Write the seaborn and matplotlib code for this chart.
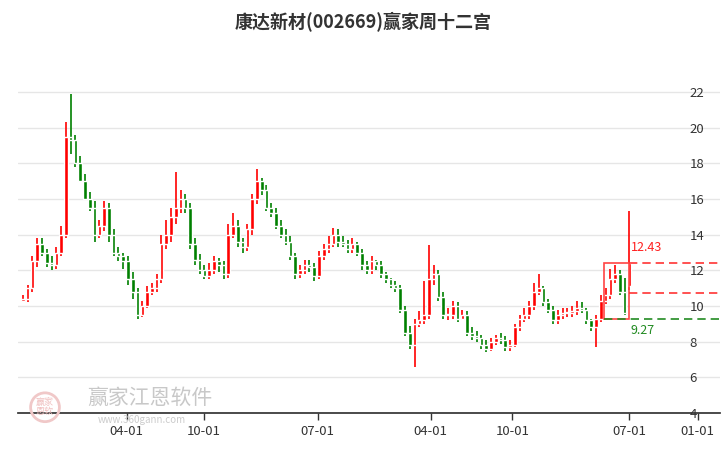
import numpy as np
import seaborn as sns
import matplotlib
matplotlib.use("Agg")
import matplotlib.pyplot as plt
from matplotlib.patches import Rectangle, Ellipse

# weekly candles
o = [10.3,10.4,11.0,12.5,13.5,13.0,12.4,12.3,13.0,14.0,
     19.5,19.3,18.0,17.0,16.0,15.5,14.0,14.5,15.5,14.0,
     13.0,12.8,12.5,11.5,10.8,9.5,10.0,10.8,11.0,11.5,
     13.5,14.0,15.0,15.5,16.0,15.5,13.5,12.6,12.0,11.7,
     12.0,12.5,12.3,11.8,14.0,14.5,13.6,13.3,14.3,16.0,
     17.0,16.5,15.5,15.2,14.5,14.0,13.6,12.8,11.8,12.0,
     12.3,12.2,11.7,12.8,13.2,13.5,14.0,13.6,13.5,13.2,
     13.5,13.0,12.3,12.0,12.5,12.3,11.8,11.5,11.2,11.0,
     9.8,8.5,7.8,9.0,9.2,9.5,11.5,11.8,10.5,9.5,
     9.5,10.0,9.3,9.5,8.5,8.3,8.2,7.8,7.6,8.0,
     8.2,8.1,7.7,7.8,8.8,9.3,9.5,10.0,10.8,11.0,
     10.2,9.8,9.2,9.5,9.6,9.6,9.7,9.9,9.8,9.2,
     8.8,9.3,10.3,10.6,11.5,11.8,10.8,11.1]
c = [10.4,11.0,12.5,13.5,13.0,12.4,12.3,13.0,14.0,19.5,
     19.3,18.0,17.0,16.0,15.5,14.0,14.5,15.5,14.0,13.0,
     12.8,12.5,11.5,10.8,9.5,10.0,10.8,11.0,11.5,13.5,
     14.0,15.0,15.5,16.0,15.5,13.5,12.6,12.0,11.7,12.0,
     12.5,12.3,11.8,14.0,14.5,13.6,13.3,14.3,16.0,17.0,
     16.5,15.5,15.2,14.5,14.0,13.6,12.8,11.8,12.0,12.3,
     12.2,11.7,12.8,13.2,13.5,14.0,13.6,13.5,13.2,13.5,
     13.0,12.3,12.0,12.5,12.3,11.8,11.5,11.2,11.0,9.8,
     8.5,7.8,9.0,9.2,9.5,11.5,11.8,10.5,9.5,9.5,
     10.0,9.3,9.5,8.5,8.3,8.2,7.8,7.6,8.0,8.2,
     8.1,7.7,7.8,8.8,9.3,9.5,10.0,10.8,11.0,10.2,
     9.8,9.2,9.5,9.6,9.6,9.7,9.9,9.8,9.2,8.8,
     9.3,10.3,10.6,11.5,11.8,10.8,9.6,12.43]
h = [10.6,11.2,12.8,13.8,13.8,13.2,12.8,13.3,14.5,20.3,
     21.9,19.6,18.4,17.4,16.4,15.9,14.8,15.9,15.8,14.3,
     13.3,13.0,12.8,11.9,11.0,10.3,11.1,11.3,11.8,14.0,
     14.8,15.5,17.5,16.5,16.3,15.8,13.8,12.9,12.3,12.4,
     12.8,12.7,12.5,14.6,15.2,14.8,13.8,14.6,16.3,17.7,
     17.2,16.8,15.8,15.5,14.8,14.3,13.9,13.0,12.3,12.6,
     12.6,12.4,13.1,13.5,13.9,14.4,14.3,13.9,13.7,13.8,
     13.6,13.2,12.5,12.8,12.6,12.5,11.9,11.6,11.4,11.2,
     10.0,8.9,9.3,9.7,11.4,13.4,12.3,12.0,10.8,9.9,
     10.3,10.2,9.8,9.7,8.8,8.6,8.4,8.1,8.2,8.4,
     8.5,8.3,8.1,9.0,9.5,9.9,10.3,11.3,11.8,11.1,
     10.4,10.0,9.8,9.9,9.9,10.0,10.3,10.2,9.9,9.3,
     9.5,10.6,11.0,12.1,12.3,12.0,11.6,15.3]
l = [10.2,10.2,10.8,12.2,12.8,12.2,12.0,12.1,12.8,13.8,
     18.5,17.8,17.2,16.5,15.3,13.6,13.8,14.2,13.6,12.8,
     12.5,12.1,11.2,10.4,9.3,9.4,9.9,10.6,10.8,11.3,
     13.2,13.6,14.6,15.2,15.2,13.2,12.3,11.8,11.5,11.5,
     11.8,11.9,11.5,11.6,13.8,13.3,13.0,13.1,14.0,15.7,
     16.2,15.3,15.0,14.3,13.8,13.4,12.6,11.5,11.6,11.8,
     11.9,11.4,11.5,12.6,13.0,13.3,13.3,13.3,13.0,13.0,
     12.8,12.0,11.8,11.8,12.0,11.6,11.3,11.0,10.8,9.6,
     8.3,7.6,6.6,8.8,9.0,9.3,11.2,10.3,9.3,9.2,
     9.3,9.1,9.2,8.3,8.1,8.0,7.6,7.4,7.5,7.8,
     7.9,7.5,7.5,7.7,8.6,9.1,9.3,9.8,10.6,10.0,
     9.6,9.0,9.0,9.3,9.4,9.4,9.5,9.6,9.0,8.6,
     7.7,9.1,10.1,10.4,11.3,10.6,9.5,10.9]

tick_pos = [21.7, 37.9, 61.7, 85.4, 102.5, 126.9, 141.3]
tick_labels = ["04-01", "10-01", "07-01", "04-01", "10-01", "07-01", "01-01"]
y_ticks = [4, 6, 8, 10, 12, 14, 16, 18, 20, 22]
box_start = 121.7
top_val, mid_val, low_val = 12.43, 10.75, 9.27

sns.set_theme(style="white")
plt.rcParams['font.family'] = ['Noto Sans CJK SC', 'DejaVu Sans']

fig = plt.figure(figsize=(7.26, 4.5), dpi=100)
ax = fig.add_axes([0.025, 0.082, 0.967, 0.785])

x = np.arange(len(c))
o_a, c_a, h_a, l_a = map(np.array, (o, c, h, l))
up = c_a >= o_a
cols = np.where(up, "#ff0000", "#008000")
ax.vlines(x, l_a, h_a, colors=cols, linewidth=1.2, zorder=3)
body = np.abs(c_a - o_a)
body = np.where(body < 0.08, 0.08, body)
ax.bar(x, body, bottom=np.minimum(o_a, c_a), width=0.75, color=cols, zorder=4)

last = x[-1]
ax.add_patch(Rectangle((box_start, low_val), last - box_start, top_val - low_val,
                       fill=False, edgecolor="#ff4444", linewidth=1.2, zorder=5))
ax.hlines(top_val, last, 146, colors="#ff3333", linestyles=(0, (5, 3)), linewidth=1.2, zorder=5)
ax.hlines(mid_val, last, 146, colors="#ff3333", linestyles=(0, (5, 3)), linewidth=1.2, zorder=5)
ax.hlines(low_val, box_start, 146, colors="#228b22", linestyles=(0, (5, 3)), linewidth=1.2, zorder=5)
ax.text(last + 0.3, top_val + 0.5, f"{top_val:.2f}", color="#ff2020", fontsize=9, va="bottom")
ax.text(last + 0.3, low_val - 0.3, f"{low_val:.2f}", color="#228b22", fontsize=9, va="top")

ax.set_xlim(-1, 146)
ax.set_ylim(4, 23.8)
ax.set_yticks(y_ticks)
ax.yaxis.tick_right()
ax.tick_params(axis="y", length=0, pad=-22, labelsize=9.5, labelcolor="#333333")
ax.grid(axis="y", color="#e6e6e6", linewidth=1)
ax.set_xticks(tick_pos)
ax.set_xticklabels(tick_labels)
ax.tick_params(axis="x", length=5, width=1, color="#333333", labelsize=9.5, labelcolor="#333333", bottom=True)
for s in ["top", "left", "right"]:
    ax.spines[s].set_visible(False)
ax.spines["bottom"].set_color("#333333")

fig.text(0.5, 0.95, "康达新材(002669)赢家周十二宫", ha="center", va="center",
         fontsize=13, fontweight="bold", color="#333333")

# watermark
fig.patches.append(Ellipse((0.062, 0.095), 0.064 * 450 / 726, 0.064, transform=fig.transFigure,
                           fill=False, edgecolor="#f0c8c8", linewidth=2))
fig.text(0.062, 0.095, "赢家\n恩软", ha="center", va="center", fontsize=6.5,
         color="#f0c0c0", linespacing=1.0)
fig.text(0.12, 0.115, "赢家江恩软件", fontsize=15, color="#c8c8c8", va="center")
fig.text(0.135, 0.066, "www.360gann.com", fontsize=7, color="#cccccc", va="center")

fig.savefig("out.png", dpi=100)
